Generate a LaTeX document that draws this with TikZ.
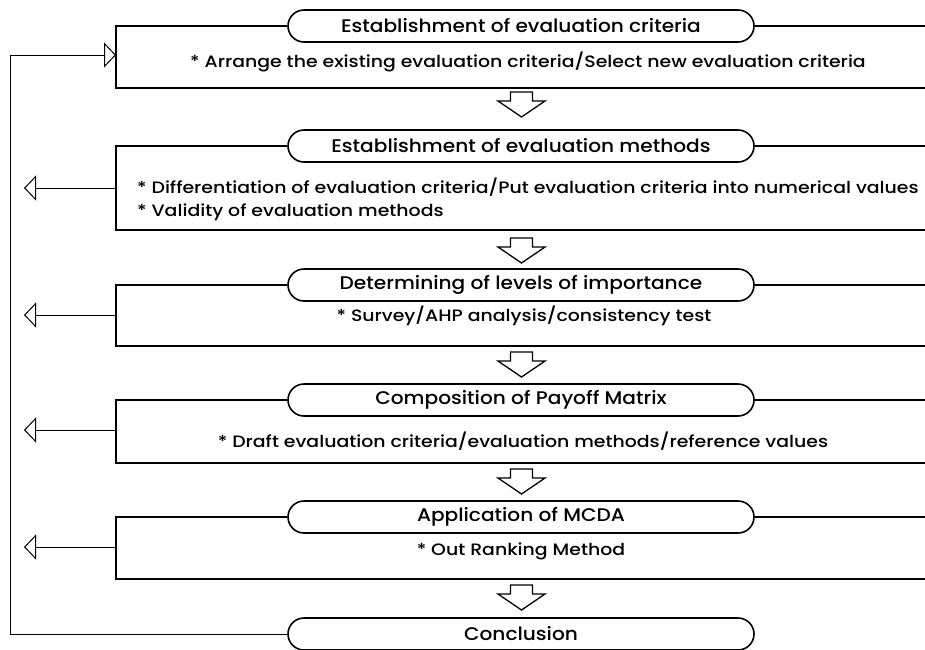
\documentclass[tikz,border=0pt]{standalone}
\usepackage{fontspec}
\IfFontExistsTF{Poppins Medium}
  {\setmainfont{Poppins Medium}[FakeStretch=1.1]
   \newfontfamily\bodyfont{Poppins Medium}[FakeStretch=1.145]}
  {\setmainfont{Poppins}[FakeStretch=1.1,FakeBold=0.6]
   \newfontfamily\bodyfont{Poppins}[FakeStretch=1.145,FakeBold=0.6]}
\usetikzlibrary{arrows.meta}
\begin{document}
\begin{tikzpicture}[x=1pt,y=-1pt,
  pill/.style={draw,line width=1.6pt,rounded corners=16pt,minimum width=466pt,minimum height=32pt,inner sep=0pt,fill=white,font=\fontsize{18.3}{20}\selectfont},
  boxline/.style={line width=1.6pt},
  txt/.style={inner sep=0pt,anchor=base,font=\bodyfont\fontsize{16.5}{18}\selectfont},
  txtl/.style={inner sep=0pt,anchor=base west,font=\bodyfont\fontsize{16.5}{18}\selectfont},
  fb/.style={line width=1pt,-{Triangle[open,length=12pt,width=25pt,line width=1pt]}},
  blk/.style={draw,line width=1.3pt,fill=white}]
\useasboundingbox (0,0) rectangle (925,649);
\def\bxl{116}\def\bxr{926}
% titles
\node[pill] (t1) at (521,26) {Establishment of evaluation criteria};
\node[pill] (t2) at (521,146) {Establishment of evaluation methods};
\node[pill] (t3) at (521,285) {Determining of levels of importance};
\node[pill] (t4) at (521,400) {Composition of Payoff Matrix};
\node[pill] (t5) at (521,517) {Application of MCDA};
\node[pill] (t6) at (521,634) {Conclusion};
% boxes
\foreach \i/\yt/\yb in {1/26/88,2/146/230,3/285/346,4/400/463,5/517/579}{
  \coordinate (tl\i) at (\bxl,\yt);
  \coordinate (bl\i) at (\bxl,\yb);
  \coordinate (tr\i) at (\bxr,\yt);
  \coordinate (br\i) at (\bxr,\yb);
  \draw[boxline] (t\i.west) -- (tl\i) -- (bl\i) -- (br\i);
  \draw[boxline] (t\i.east) -- (tr\i);
}
% texts
\node[txt] (s1) at (528,67.5) {* Arrange the existing evaluation criteria/Select new evaluation criteria};
\node[txtl] (s2a) at (137,193.5) {* Differentiation of evaluation criteria/Put evaluation criteria into numerical values};
\node[txtl] (s2b) at (137,216.5) {* Validity of evaluation methods};
\node[txt] (s3) at (524,321) {* Survey/AHP analysis/consistency test};
\node[txt] (s4) at (523,447.5) {* Draft evaluation criteria/evaluation methods/reference values};
\node[txt] (s5) at (521,555) {* Out Ranking Method};
% down block arrows
\foreach \y in {92,238,352,469,585}{
  \draw[blk] (510.5,\y) -- (532.5,\y) -- (532.5,\y+9) -- (545,\y+9) -- (521.5,\y+25) -- (498,\y+9) -- (510.5,\y+9) -- cycle;
}
% feedback
\coordinate (fbot) at (10,634);
\coordinate (ftop) at (10,55);
\coordinate (in1) at (\bxl,55);
\draw[line width=1pt] (t6.west) -- (fbot) -- (ftop);
\draw[fb] (ftop) -- (in1);
\foreach \i/\y in {2/188,3/315,4/430,5/547}{
  \coordinate (o\i) at (\bxl,\y);
  \coordinate (e\i) at (24,\y);
  \draw[fb] (o\i) -- (e\i);
}
\end{tikzpicture}
\end{document}
